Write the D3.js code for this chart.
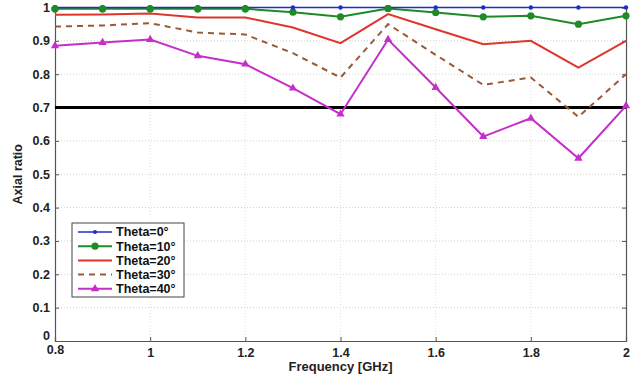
<!DOCTYPE html>
<html>
<head>
<meta charset="utf-8">
<script src="https://cdn.jsdelivr.net/npm/d3@7"></script>
<style>
  html, body { margin: 0; padding: 0; background: #fff; }
  svg { display: block; font-family: "Liberation Sans", Arial, sans-serif; }
</style>
</head>
<body>
<svg id="chart" width="641" height="380"></svg>
<script>
// Frequency samples (GHz)
const frequency = [0.8, 0.9, 1.0, 1.1, 1.2, 1.3, 1.4, 1.5, 1.6, 1.7, 1.8, 1.9, 2.0];

// Axial ratio per incidence angle
const theta0  = [1, 1, 1, 1, 1, 1, 1, 1, 1, 1, 1, 1, 1];
const theta10 = [0.996, 0.996, 0.996, 0.996, 0.996, 0.986, 0.972, 0.997, 0.985, 0.972, 0.975, 0.95, 0.975];
const theta20 = [0.978, 0.979, 0.982, 0.97, 0.97, 0.94, 0.893, 0.98, 0.935, 0.89, 0.9, 0.82, 0.9];
const theta30 = [0.943, 0.946, 0.953, 0.925, 0.919, 0.863, 0.79, 0.95, 0.858, 0.768, 0.79, 0.672, 0.8];
const theta40 = [0.885, 0.895, 0.904, 0.855, 0.83, 0.758, 0.68, 0.904, 0.76, 0.613, 0.668, 0.548, 0.705];

const seriesNames = ["Theta=0°", "Theta=10°", "Theta=20°", "Theta=30°", "Theta=40°"];
const threshold = 0.7;

const xTicks = [0.8, 1, 1.2, 1.4, 1.6, 1.8, 2];
const yTicks = [0, 0.1, 0.2, 0.3, 0.4, 0.5, 0.6, 0.7, 0.8, 0.9, 1];

const series = [
  { name: seriesNames[0], values: theta0,  color: "#1c2fc4", width: 1.5, dash: null,  marker: "dot" },
  { name: seriesNames[1], values: theta10, color: "#1f8a26", width: 2,   dash: null,  marker: "circle" },
  { name: seriesNames[2], values: theta20, color: "#e0352b", width: 2,   dash: null,  marker: null },
  { name: seriesNames[3], values: theta30, color: "#9b5a36", width: 2,   dash: "6,5", marker: null },
  { name: seriesNames[4], values: theta40, color: "#c52fc8", width: 2,   dash: null,  marker: "triangle" }
];

const svg = d3.select("#chart");
const FONT = "'Liberation Sans', Arial, sans-serif";

const x = d3.scaleLinear().domain([0.8, 2]).range([55, 626]);
const y = d3.scaleLinear().domain([0, 1]).range([341, 7.5]);

// dotted grid
const grid = svg.append("g");
grid.selectAll("line.gy").data(yTicks.filter(v => v > 0 && v < 1)).enter().append("line")
  .attr("x1", x(0.8)).attr("x2", x(2)).attr("y1", d => y(d)).attr("y2", d => y(d))
  .attr("stroke", "#d0d0d0").attr("stroke-width", 1).attr("stroke-dasharray", "1,2");
grid.selectAll("line.gx").data(xTicks.filter(v => v > 0.8 && v < 2)).enter().append("line")
  .attr("x1", d => x(d)).attr("x2", d => x(d)).attr("y1", y(0)).attr("y2", y(1))
  .attr("stroke", "#e0e0e0").attr("stroke-width", 1).attr("stroke-dasharray", "1,2");

// axes
const xAxis = svg.append("g").attr("transform", `translate(0,${y(0)})`)
  .call(d3.axisBottom(x).tickValues(xTicks).tickSize(-4).tickPadding(7).tickFormat(d => d3.format("")(d)));
const yAxis = svg.append("g").attr("transform", `translate(${x(0.8)},0)`)
  .call(d3.axisLeft(y).tickValues(yTicks).tickSize(-4).tickPadding(5).tickFormat(d => d3.format("")(d)));
const yAxisR = svg.append("g").attr("transform", `translate(${x(2)},0)`)
  .call(d3.axisRight(y).tickValues(yTicks).tickSize(-4).tickFormat(""));
[xAxis, yAxis, yAxisR].forEach(g => {
  g.select(".domain").attr("stroke", "#555").attr("stroke-width", 1.2);
  g.selectAll(".tick line").attr("stroke", "#555");
  g.selectAll("text").attr("fill", "#222").attr("font-size", 12.5).attr("font-weight", "bold")
    .attr("font-family", FONT);
});
yAxis.selectAll(".tick").filter(d => d === 0).select("text").attr("dy", "-0.15em");
xAxis.selectAll(".tick").filter(d => d === 0.8).select("text").attr("dy", "0.5em");

// threshold line
svg.append("line")
  .attr("x1", x(0.8)).attr("x2", x(2)).attr("y1", y(threshold)).attr("y2", y(threshold))
  .attr("stroke", "#000").attr("stroke-width", 3);

// series
const line = d3.line().x((d, i) => x(frequency[i])).y(d => y(d));
const tri = d3.symbol().type(d3.symbolTriangle).size(30);

function drawMarker(g, type, color, cx, cy, small) {
  if (type === "dot") {
    g.append("circle").attr("cx", cx).attr("cy", cy).attr("r", small ? 2 : 2.2).attr("fill", color);
  } else if (type === "circle") {
    g.append("circle").attr("cx", cx).attr("cy", cy).attr("r", 3.6).attr("fill", color);
  } else if (type === "triangle") {
    g.append("path").attr("d", tri()).attr("transform", `translate(${cx},${cy})`).attr("fill", color);
  }
}

// draw from last to first so Theta=0 stays on top where it coincides with Theta=10
series.slice().reverse().forEach(s => {
  const g = svg.append("g");
  g.append("path").datum(s.values).attr("d", line)
    .attr("fill", "none").attr("stroke", s.color).attr("stroke-width", s.width)
    .attr("stroke-dasharray", s.dash);
  if (s.marker) s.values.forEach((v, i) => drawMarker(g, s.marker, s.color, x(frequency[i]), y(v)));
});
// Theta=10 markers sit over the Theta=0 line
const s10 = series[1];
s10.values.forEach((v, i) => { if (v > 0.99) drawMarker(svg.append("g"), "circle", s10.color, x(frequency[i]), y(v)); });

// axis titles
svg.append("text").attr("x", (x(0.8) + x(2)) / 2).attr("y", 371)
  .attr("text-anchor", "middle").attr("font-size", 13).attr("font-weight", "bold").attr("fill", "#222")
  .attr("font-family", FONT).text("Frequency [GHz]");
svg.append("text").attr("transform", `translate(22,${(y(0) + y(1)) / 2}) rotate(-90)`)
  .attr("text-anchor", "middle").attr("font-size", 12.5).attr("font-weight", "bold").attr("fill", "#222")
  .attr("font-family", FONT).text("Axial ratio");

// legend
const lg = svg.append("g");
lg.append("rect").attr("x", 72).attr("y", 223).attr("width", 112).attr("height", 74)
  .attr("fill", "#fff").attr("stroke", "#444").attr("stroke-width", 1);
series.forEach((s, i) => {
  const ly = 232 + i * 14.2;
  lg.append("line").attr("x1", 78).attr("x2", 112).attr("y1", ly).attr("y2", ly)
    .attr("stroke", s.color).attr("stroke-width", s.width).attr("stroke-dasharray", s.dash);
  if (s.marker) drawMarker(lg, s.marker, s.color, 95, ly, true);
  lg.append("text").attr("x", 116).attr("y", ly).attr("dy", "0.35em")
    .attr("font-size", 12.5).attr("font-weight", "bold").attr("fill", "#111")
    .attr("font-family", FONT).text(s.name);
});
</script>
</body>
</html>
